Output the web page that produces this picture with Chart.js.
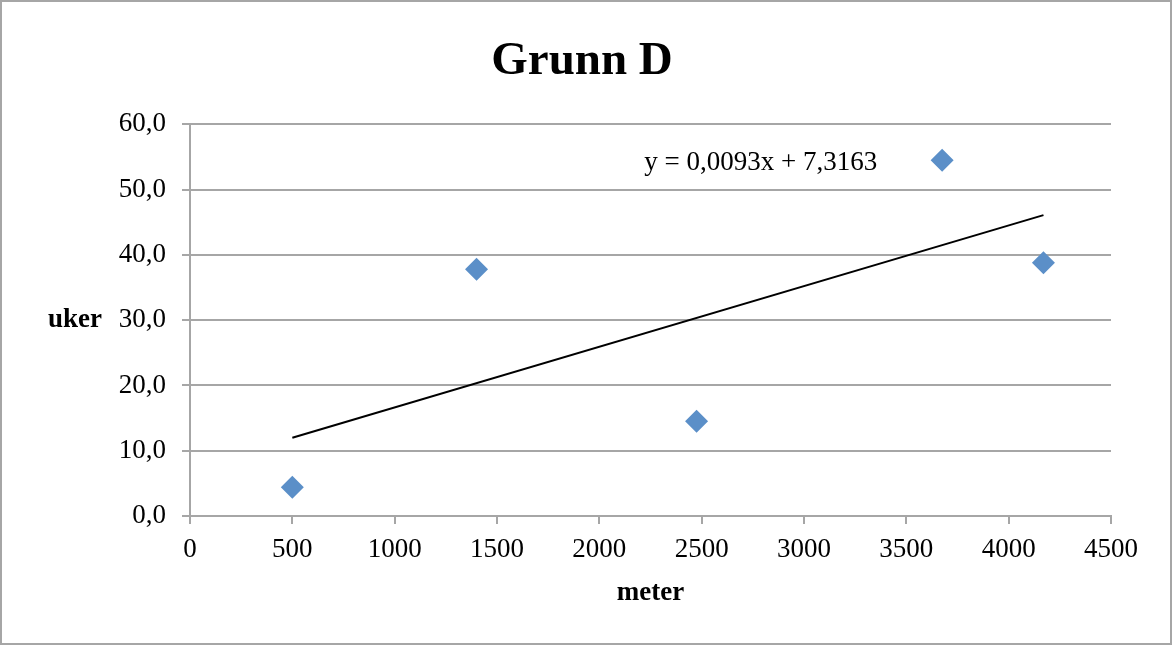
<!DOCTYPE html>
<html>
<head>
<meta charset="utf-8">
<script src="https://cdn.jsdelivr.net/npm/chart.js@4"></script>
<style>
  html, body { margin: 0; padding: 0; background: #fff; }
  #wrap { width: 1173px; height: 645px; }
</style>
</head>
<body>
<div id="wrap"><canvas id="myChart" width="1173" height="645"></canvas></div>
<script>
// data
var meter = [500, 1400, 2475, 3675, 4170];
var uker = [4.4, 37.8, 14.5, 54.5, 38.8];
// trendline ends as drawn (linear fit shown on chart)
var trendX = [500, 4170];
var trendY = [12.0, 46.1];
var trendLabel = 'y = 0,0093x + 7,3163';

var serif = "'Liberation Serif', 'DejaVu Serif', serif";
var grey = '#a6a6a6';

const ctx = document.getElementById('myChart');

// frame, y title and equation text
var extras = {
  id: 'extras',
  beforeDraw: function(chart) {
    var c = chart.ctx;
    c.save();
    c.fillStyle = '#fff';
    c.fillRect(0, 0, chart.width, chart.height);
    c.strokeStyle = grey;
    c.lineWidth = 2;
    c.strokeRect(1, 1, chart.width - 3, chart.height - 2);
    c.restore();
  },
  afterDraw: function(chart) {
    var c = chart.ctx;
    var x = chart.scales.x, y = chart.scales.y;
    c.save();
    c.fillStyle = '#000';
    c.font = 'bold 27px ' + serif;
    c.textAlign = 'center';
    c.textBaseline = 'middle';
    c.fillText('uker', 75, (chart.chartArea.top + chart.chartArea.bottom) / 2);
    c.font = '27px ' + serif;
    c.textAlign = 'left';
    c.fillText(trendLabel, x.getPixelForValue(2220), y.getPixelForValue(54.1));
    c.restore();
  }
};

var chart = new Chart(ctx, {
  type: 'scatter',
  data: {
    datasets: [{
      label: 'uker',
      data: meter.map(function(m, i) { return {x: m, y: uker[i]}; }),
      pointStyle: 'rectRot',
      pointRadius: 11.5,
      pointHoverRadius: 11.5,
      backgroundColor: '#5b8fc8',
      borderColor: '#5b8fc8',
      borderWidth: 0
    },
    {
      type: 'line',
      label: 'trend',
      data: trendX.map(function(t, i) { return {x: t, y: trendY[i]}; }),
      borderColor: '#000',
      borderWidth: 2,
      pointRadius: 0,
      fill: false
    }]
  },
  options: {
    responsive: false,
    animation: false,
    layout: { padding: { left: 53, right: 62, top: 0, bottom: 0 } },
    plugins: {
      legend: { display: false },
      tooltip: { enabled: false },
      title: {
        display: true,
        text: 'Grunn D',
        color: '#000',
        font: { family: serif, size: 47, weight: 'bold', lineHeight: 1.2 },
        padding: { top: 34, bottom: 34 }
      }
    },
    scales: {
      x: {
        type: 'linear',
        min: 0,
        max: 4500,
        ticks: {
          stepSize: 500,
          color: '#000',
          padding: 10,
          font: { family: serif, size: 27 },
          callback: function(v) { return String(v); }
        },
        grid: {
          drawOnChartArea: false,
          color: grey,
          lineWidth: 2,
          tickLength: 8
        },
        border: { color: grey, width: 2 },
        title: {
          display: true,
          text: 'meter',
          color: '#000',
          font: { family: serif, size: 27, weight: 'bold', lineHeight: 1.2 },
          padding: { top: 0, bottom: 36 }
        },
        afterFit: function(scale) { scale.height = 129; }
      },
      y: {
        min: 0,
        max: 60,
        ticks: {
          stepSize: 10,
          color: '#000',
          padding: 16,
          font: { family: serif, size: 27 },
          callback: function(v) { return v.toFixed(1).replace('.', ','); }
        },
        grid: {
          color: grey,
          lineWidth: 2,
          tickLength: 8
        },
        border: { color: grey, width: 2 },
        afterFit: function(scale) { scale.width = 137; }
      }
    }
  },
  plugins: [extras]
});
</script>
</body>
</html>
